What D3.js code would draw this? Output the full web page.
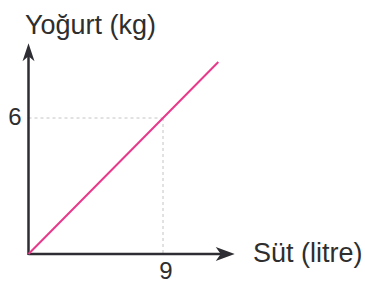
<!DOCTYPE html>
<html>
<head>
<meta charset="utf-8">
<script src="https://cdn.jsdelivr.net/npm/d3@7"></script>
<style>
  body { margin: 0; background: #fff; }
  text { font-family: "Liberation Sans", Arial, sans-serif; fill: #2e2e2e; }
</style>
</head>
<body>
<div id="chart"></div>
<script>
  // data
  var lineX = [0, 9, 12.7];
  var lineY = [0, 6, 8.47];
  var tickX = [9];
  var tickY = [6];
  var xLabel = "Süt (litre)";
  var yLabel = "Yoğurt (kg)";
  var xAxisMax = 13.8;
  var yAxisMax = 9.3;

  var svg = d3.select('#chart')
              .append('svg')
              .attr('width', 365)
              .attr('height', 284);

  var x = d3.scaleLinear().domain([0, 9]).range([28.5, 163]);
  var y = d3.scaleLinear().domain([0, 6]).range([254, 118]);

  // dashed guides
  tickX.forEach(function(t, i){
    var ty = tickY[i];
    svg.append('line')
       .attr('x1', x(0)).attr('x2', x(t))
       .attr('y1', y(ty)).attr('y2', y(ty))
       .style('stroke', '#c4c4c4').style('stroke-width', 1)
       .style('stroke-dasharray', '3,3');
    svg.append('line')
       .attr('x1', x(t)).attr('x2', x(t))
       .attr('y1', y(ty)).attr('y2', y(0))
       .style('stroke', '#c4c4c4').style('stroke-width', 1)
       .style('stroke-dasharray', '3,3');
  });

  // axes
  var axisColor = '#2d2d33';
  svg.append('line')
     .attr('x1', x(0)).attr('x2', x(xAxisMax) - 8)
     .attr('y1', y(0)).attr('y2', y(0))
     .style('stroke', axisColor).style('stroke-width', 2.5);
  svg.append('line')
     .attr('x1', x(0)).attr('x2', x(0))
     .attr('y1', y(0) + 1).attr('y2', y(yAxisMax) + 8)
     .style('stroke', axisColor).style('stroke-width', 2.5);

  // arrow heads
  var ax = x(xAxisMax), ay = y(0);
  svg.append('path')
     .attr('d', 'M' + ax + ',' + ay + 'L' + (ax - 19) + ',' + (ay - 7) +
                'L' + (ax - 14) + ',' + ay + 'L' + (ax - 19) + ',' + (ay + 7) + 'Z')
     .style('fill', axisColor);
  var bx = x(0), by = y(yAxisMax);
  svg.append('path')
     .attr('d', 'M' + bx + ',' + by + 'L' + (bx - 6) + ',' + (by + 18) +
                'L' + bx + ',' + (by + 13) + 'L' + (bx + 6) + ',' + (by + 18) + 'Z')
     .style('fill', axisColor);

  // data line
  var pts = lineX.map(function(v, i){ return [v, lineY[i]]; });
  svg.append('path')
     .datum(pts)
     .attr('d', d3.line().x(function(d){ return x(d[0]); }).y(function(d){ return y(d[1]); }))
     .style('fill', 'none')
     .style('stroke', '#e8398a')
     .style('stroke-width', 2);

  // tick labels
  svg.selectAll('.tx').data(tickX).enter().append('text')
     .attr('x', function(d){ return x(d) + 3; })
     .attr('y', 279)
     .attr('text-anchor', 'middle')
     .style('font-size', '24px')
     .text(function(d){ return d; });
  svg.selectAll('.ty').data(tickY).enter().append('text')
     .attr('x', 15)
     .attr('y', function(d){ return y(d) + 7; })
     .attr('text-anchor', 'middle')
     .style('font-size', '24px')
     .text(function(d){ return d; });

  // axis titles
  svg.append('text')
     .attr('x', 25).attr('y', 34)
     .style('font-size', '27px')
     .text(yLabel);
  svg.append('text')
     .attr('x', 253).attr('y', 262)
     .style('font-size', '27px')
     .text(xLabel);
</script>
</body>
</html>
